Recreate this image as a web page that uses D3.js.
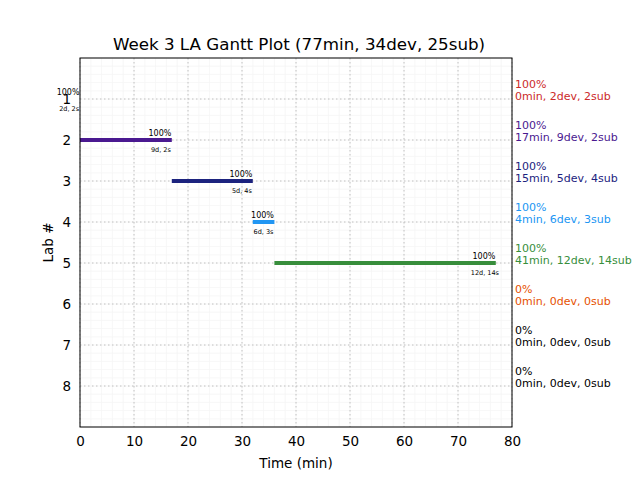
<!DOCTYPE html>
<html><head><meta charset="utf-8">
<script src="https://cdn.jsdelivr.net/npm/d3@7"></script>
<style>body{margin:0;background:#fff}svg{font-family:"DejaVu Sans",sans-serif}</style>
</head><body><svg id="c" width="640" height="480"></svg>
<script>
const labs = [1,2,3,4,5,6,7,8];
const starts = [0,0,17,32,36,null,null,null];
const ends   = [0,17,32,36,77,null,null,null];
const pct    = ["100%","100%","100%","100%","100%","0%","0%","0%"];
const mins   = [0,17,15,4,41,0,0,0];
const devs   = [2,9,5,6,12,0,0,0];
const subs   = [2,2,4,3,14,0,0,0];
const colors = ["#cc2a2a","#4a1990","#1c237e","#2196f3","#388e3c","#e65100","#000000","#000000"];
const xTicks = [0,10,20,30,40,50,60,70,80];
const title = "Week 3 LA Gantt Plot (77min, 34dev, 25sub)";

const svg = d3.select("#c");
const L=80,R=512,T=58,B=427;
const x = d3.scaleLinear().domain([0,80]).range([L,R]);
const y = d3.scaleLinear().domain([0,9]).range([T,B]);

// minor grid
const g = svg.append("g");
g.selectAll(".mx").data(d3.range(0,80.01,2)).enter().append("line")
 .attr("x1",d=>x(d)).attr("x2",d=>x(d)).attr("y1",T).attr("y2",B)
 .attr("stroke","#f5f5f5").attr("stroke-width",0.8);
g.selectAll(".my").data(d3.range(0,9.001,0.2)).enter().append("line")
 .attr("y1",d=>y(d)).attr("y2",d=>y(d)).attr("x1",L).attr("x2",R)
 .attr("stroke","#f5f5f5").attr("stroke-width",0.8);
// major grid
g.selectAll(".Mx").data(xTicks).enter().append("line")
 .attr("x1",d=>x(d)).attr("x2",d=>x(d)).attr("y1",T).attr("y2",B)
 .attr("stroke","#c0c0c0").attr("stroke-dasharray","1.5,2.5").attr("stroke-width",1);
g.selectAll(".My").data(labs).enter().append("line")
 .attr("y1",d=>y(d)).attr("y2",d=>y(d)).attr("x1",L).attr("x2",R)
 .attr("stroke","#c0c0c0").attr("stroke-dasharray","1.5,2.5").attr("stroke-width",1);

// bars
labs.forEach((lab,i)=>{
  if(starts[i]===null) return;
  if(ends[i]>starts[i]){
    svg.append("line").attr("x1",x(starts[i])).attr("x2",x(ends[i]))
      .attr("y1",y(lab)).attr("y2",y(lab)).attr("stroke",colors[i]).attr("stroke-width",4);
  }
  const cx = x(ends[i]-2.2);
  svg.append("text").attr("x",cx).attr("y",y(lab)-4).attr("text-anchor","middle")
    .attr("font-size",8).attr("fill","#000").text(pct[i]);
  svg.append("text").attr("x",cx+1).attr("y",y(lab)+12).attr("text-anchor","middle")
    .attr("font-size",6.5).attr("fill","#000").text(devs[i]+"d, "+subs[i]+"s");
});

// frame
svg.append("rect").attr("x",L).attr("y",T).attr("width",R-L).attr("height",B-T)
  .attr("fill","none").attr("stroke","#000").attr("stroke-width",1);

// axes
const xa = svg.append("g").attr("transform",`translate(0,${B})`)
  .call(d3.axisBottom(x).tickValues(xTicks).tickSize(0).tickPadding(9));
xa.select(".domain").remove();
xa.selectAll("text").attr("font-size",13.5).attr("font-family","DejaVu Sans").attr("fill","#000");
const ya = svg.append("g").attr("transform",`translate(${L},0)`)
  .call(d3.axisLeft(y).tickValues(labs).tickSize(0).tickPadding(9));
ya.select(".domain").remove();
ya.selectAll("text").attr("font-size",13.5).attr("font-family","DejaVu Sans").attr("fill","#000");

// right labels
labs.forEach((lab,i)=>{
  const t = svg.append("text").attr("x",515).attr("font-size",11).attr("fill",colors[i]);
  t.append("tspan").attr("x",515).attr("y",y(lab)-11).text(pct[i]);
  t.append("tspan").attr("x",515).attr("y",y(lab)+1).text(mins[i]+"min, "+devs[i]+"dev, "+subs[i]+"sub");
});

svg.append("text").attr("x",(L+R)/2+3).attr("y",50).attr("text-anchor","middle")
  .attr("font-size",16.7).text(title);
svg.append("text").attr("x",(L+R)/2).attr("y",468).attr("text-anchor","middle")
  .attr("font-size",13.5).text("Time (min)");
svg.append("text").attr("transform",`translate(53,${(T+B)/2}) rotate(-90)`).attr("text-anchor","middle")
  .attr("font-size",13.5).text("Lab #");
</script></body></html>
